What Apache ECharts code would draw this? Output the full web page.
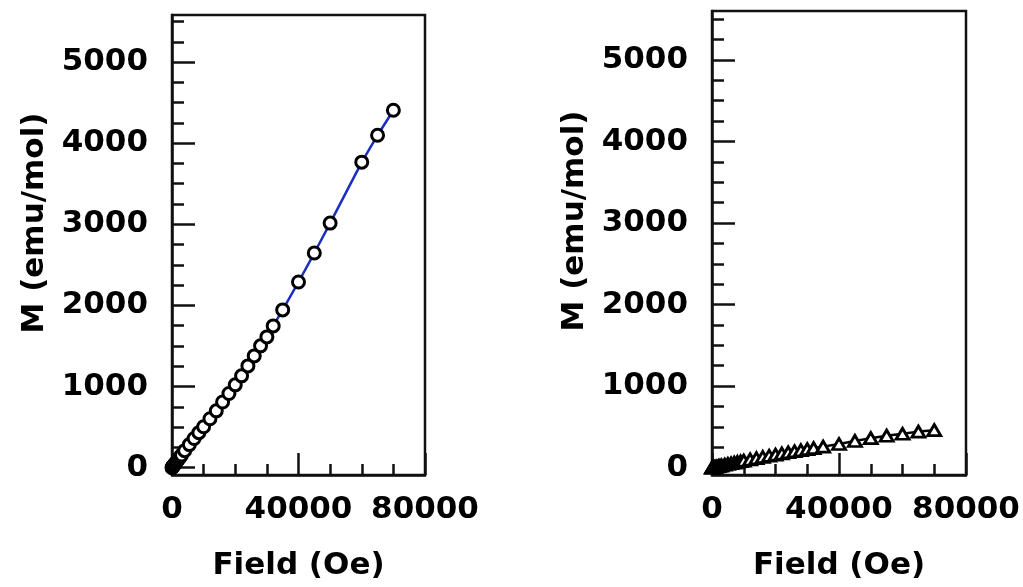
<!DOCTYPE html>
<html>
<head>
<meta charset="utf-8">
<script src="https://cdn.jsdelivr.net/npm/echarts@6/dist/echarts.min.js"></script>
<style>
  html, body { margin: 0; padding: 0; background: #fff; }
  #chart { width: 1023px; height: 587px; }
</style>
</head>
<body>
<div id="chart"></div>
<script>
// field (Oe) and magnetisation (emu/mol)
const fieldLeft = [0, 100, 200, 300, 500, 700, 1000, 1500, 2000, 2500, 3000, 4000, 5500, 7000, 8500, 10000,
  12000, 14000, 16000, 18000, 20000, 22000, 24000, 26000, 28000, 30000, 32000,
  35000, 40000, 45000, 50000, 60000, 65000, 70000];
const momentLeft = [0, 5, 10, 15, 25, 36, 51, 76, 102, 128, 155, 210, 285, 360, 432, 505,
  603, 701, 810, 915, 1021, 1132, 1255, 1378, 1502, 1612, 1748,
  1945, 2289, 2646, 3015, 3766, 4098, 4406];

const fieldRight = [0, 100, 200, 300, 500, 700, 1000, 1500, 2000, 2500, 3000, 4000, 5000, 6000, 7000, 8000, 9000, 10000,
  12000, 14000, 16000, 18000, 20000, 22000, 24000, 26000, 28000, 30000, 32000,
  35000, 40000, 45000, 50000, 55000, 60000, 65000, 70000];
const momentRight = [0, 1, 2, 3, 5, 7, 10, 14, 19, 23, 28, 37, 45, 54, 62, 70, 78, 86,
  101, 116, 131, 146, 160, 174, 188, 201, 214, 227, 240,
  258, 290, 328, 362, 392, 415, 442, 460];

const yLabelValues = [0, 1000, 2000, 3000, 4000, 5000];
const yMinorValues = [0, 250, 500, 750, 1000, 1250, 1500, 1750, 2000, 2250, 2500, 2750,
  3000, 3250, 3500, 3750, 4000, 4250, 4500, 4750, 5000, 5250, 5500];

const FONT = 'DejaVu Sans';
const textStyle = { fontFamily: FONT, fontWeight: 'bold', fontSize: 31, color: '#000' };
const plain = (v) => String(v);
const ink = { color: '#111', width: 2.5 };

const pair = (xs, ys) => xs.map((x, i) => [x, ys[i]]);

const makeX = (gridIndex) => ({
  type: 'value',
  gridIndex: gridIndex,
  min: 0,
  max: 80000,
  interval: 40000,
  name: 'Field (Oe)',
  nameLocation: 'middle',
  nameGap: 75,
  nameTextStyle: textStyle,
  axisLine: { show: true, onZero: false, lineStyle: ink },
  axisTick: { show: true, inside: true, length: 22, lineStyle: ink },
  minorTick: { show: true, splitNumber: 4, length: 11, lineStyle: ink },
  axisLabel: Object.assign({ margin: 19, formatter: plain }, textStyle),
  splitLine: { show: false }
});

const makeY = (gridIndex, max) => ({
  type: 'value',
  gridIndex: gridIndex,
  min: -90,
  max: max,
  name: 'M (emu/mol)',
  nameLocation: 'middle',
  nameGap: 122,
  nameTextStyle: Object.assign({ padding: [0, 0, 0, 44] }, textStyle),
  axisLine: { show: true, onZero: false, lineStyle: ink },
  axisTick: { show: true, inside: true, length: 23, customValues: yLabelValues, lineStyle: ink },
  axisLabel: Object.assign({ margin: 24, customValues: yLabelValues, formatter: plain }, textStyle),
  splitLine: { show: false }
});

const makeYMinor = (gridIndex, max) => ({
  type: 'value',
  gridIndex: gridIndex,
  min: -90,
  max: max,
  position: 'left',
  axisLine: { show: false },
  axisTick: { show: true, inside: true, length: 12, customValues: yMinorValues, lineStyle: ink },
  axisLabel: { show: false },
  splitLine: { show: false }
});

const chart = echarts.init(document.getElementById('chart'));
chart.setOption({
  animation: false,
  backgroundColor: '#fff',
  grid: [
    { left: 172, top: 15, width: 253, height: 460, show: true, borderColor: '#111', borderWidth: 2.5,
      outerBoundsMode: 'none' },
    { left: 712, top: 11, width: 254, height: 464, show: true, borderColor: '#111', borderWidth: 2.5,
      outerBoundsMode: 'none' }
  ],
  xAxis: [makeX(0), makeX(1)],
  yAxis: [makeY(0, 5580), makeYMinor(0, 5580), makeY(1, 5600), makeYMinor(1, 5600)],
  series: [
    {
      type: 'line',
      xAxisIndex: 0,
      yAxisIndex: 0,
      data: pair(fieldLeft, momentLeft),
      symbol: 'circle',
      symbolSize: 12,
      itemStyle: { color: '#fff', borderColor: '#000', borderWidth: 3 },
      lineStyle: { color: '#1a2ec0', width: 2.5 },
      emphasis: { disabled: true }
    },
    {
      type: 'line',
      xAxisIndex: 1,
      yAxisIndex: 2,
      data: pair(fieldRight, momentRight),
      symbol: 'triangle',
      symbolSize: [13, 11],
      itemStyle: { color: '#fff', borderColor: '#000', borderWidth: 2.8 },
      lineStyle: { color: '#000', width: 2.5 },
      emphasis: { disabled: true }
    }
  ]
});
</script>
</body>
</html>
